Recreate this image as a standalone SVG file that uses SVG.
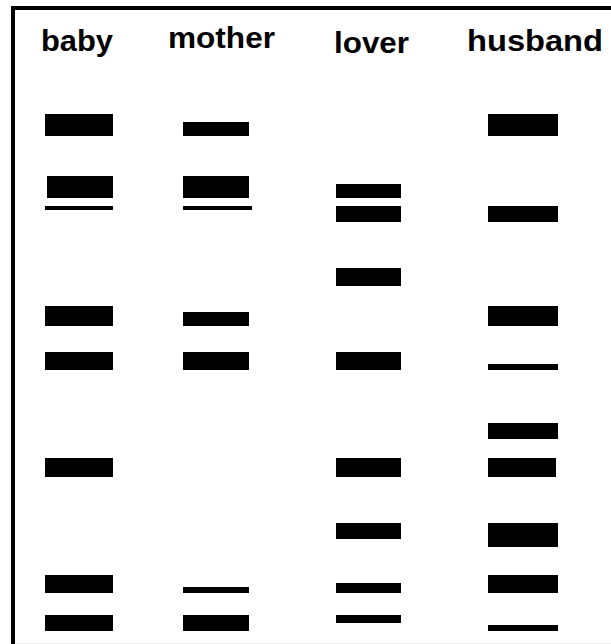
<svg xmlns="http://www.w3.org/2000/svg" width="611" height="644" viewBox="0 0 611 644">
  <style>
    .lbl { font-family: "Liberation Sans", Arial, sans-serif; font-weight: bold; font-size: 30px; fill: #000; }
    .band { fill: #000; }
  </style>
  <rect x="0" y="0" width="611" height="644" fill="#fff"/>
  <g id="frame">
    <line x1="13" y1="6" x2="13" y2="644" stroke="#000" stroke-width="4"/>
    <line x1="11" y1="8" x2="611" y2="8" stroke="#000" stroke-width="4"/>
    <line x1="15" y1="643.5" x2="611" y2="643.5" stroke="#eeeeee" stroke-width="1"/>
  </g>
  <g id="baby">
    <text class="lbl" x="41" y="51" textLength="72" lengthAdjust="spacingAndGlyphs">baby</text>
    <rect class="band" x="45" y="114" width="68" height="22"/>
    <rect class="band" x="47" y="176" width="66" height="22"/>
    <rect class="band" x="45" y="206" width="68" height="4"/>
    <rect class="band" x="45" y="306" width="68" height="20"/>
    <rect class="band" x="45" y="352" width="68" height="18"/>
    <rect class="band" x="45" y="458" width="68" height="19"/>
    <rect class="band" x="45" y="575" width="68" height="18"/>
    <rect class="band" x="45" y="615" width="68" height="16"/>
  </g>
  <g id="mother">
    <text class="lbl" x="168" y="48" textLength="107" lengthAdjust="spacingAndGlyphs">mother</text>
    <rect class="band" x="183" y="122" width="66" height="14"/>
    <rect class="band" x="183" y="176" width="66" height="22"/>
    <rect class="band" x="183" y="206" width="69" height="4"/>
    <rect class="band" x="183" y="312" width="66" height="14"/>
    <rect class="band" x="183" y="352" width="66" height="18"/>
    <rect class="band" x="183" y="587" width="66" height="6"/>
    <rect class="band" x="183" y="615" width="66" height="16"/>
  </g>
  <g id="lover">
    <text class="lbl" x="334" y="53" textLength="75" lengthAdjust="spacingAndGlyphs">lover</text>
    <rect class="band" x="336" y="184" width="65" height="14"/>
    <rect class="band" x="336" y="206" width="65" height="16"/>
    <rect class="band" x="336" y="268" width="65" height="18"/>
    <rect class="band" x="336" y="352" width="65" height="18"/>
    <rect class="band" x="336" y="458" width="65" height="19"/>
    <rect class="band" x="336" y="523" width="65" height="16"/>
    <rect class="band" x="336" y="583" width="65" height="10"/>
    <rect class="band" x="336" y="615" width="65" height="8"/>
  </g>
  <g id="husband">
    <text class="lbl" x="467" y="51" textLength="136" lengthAdjust="spacingAndGlyphs">husband</text>
    <rect class="band" x="488" y="114" width="70" height="22"/>
    <rect class="band" x="488" y="206" width="70" height="16"/>
    <rect class="band" x="488" y="306" width="70" height="20"/>
    <rect class="band" x="488" y="364" width="70" height="6"/>
    <rect class="band" x="488" y="423" width="70" height="16"/>
    <rect class="band" x="488" y="458" width="68" height="19"/>
    <rect class="band" x="488" y="523" width="70" height="24"/>
    <rect class="band" x="488" y="575" width="70" height="18"/>
    <rect class="band" x="488" y="625" width="70" height="6"/>
  </g>
</svg>
